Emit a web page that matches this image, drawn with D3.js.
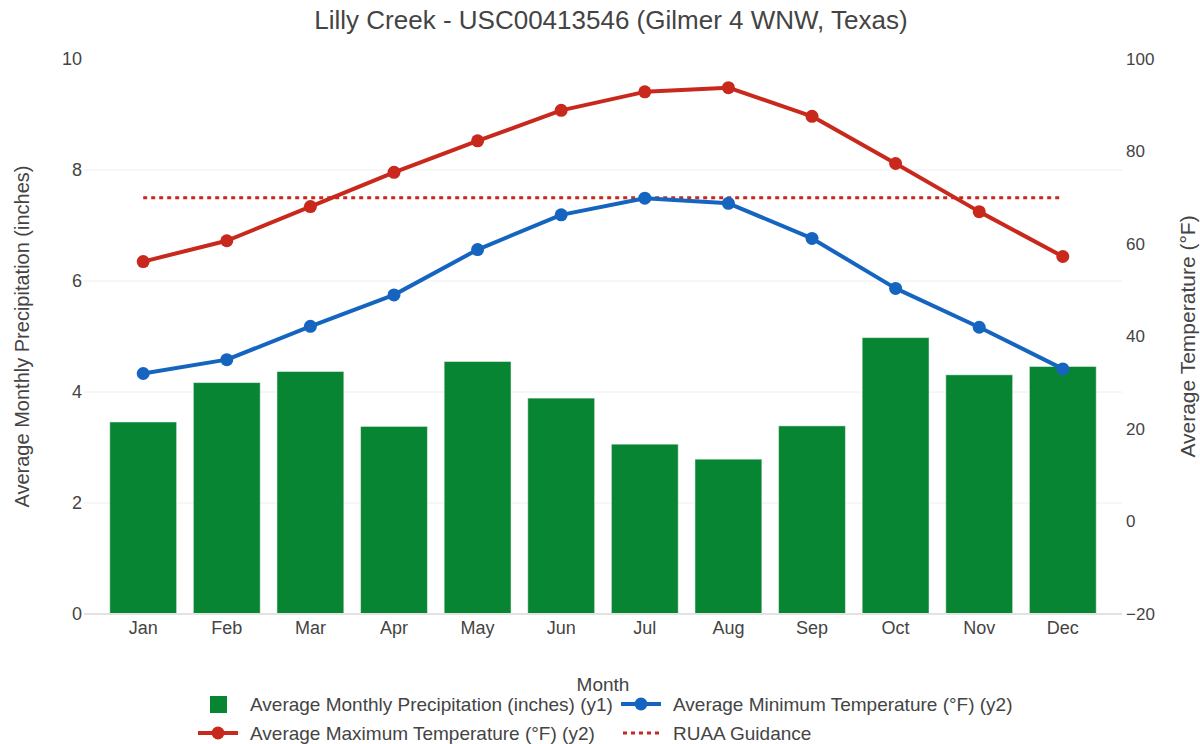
<!DOCTYPE html>
<html>
<head>
<meta charset="utf-8">
<script src="https://cdn.jsdelivr.net/npm/d3@7"></script>
<style>
  body { margin: 0; background: #fff; }
  text { font-family: "Liberation Sans", Arial, sans-serif; fill: #444; }
</style>
</head>
<body>
<div id="chart"></div>
<script>
// Chart data
var months = ["Jan", "Feb", "Mar", "Apr", "May", "Jun", "Jul", "Aug", "Sep", "Oct", "Nov", "Dec"];
var precip = [3.46, 4.17, 4.37, 3.38, 4.55, 3.89, 3.06, 2.79, 3.39, 4.98, 4.31, 4.46];
var maxTemp = [56.2, 60.7, 68.1, 75.5, 82.3, 88.9, 92.9, 93.8, 87.6, 77.4, 67.0, 57.3];
var minTemp = [32.0, 35.0, 42.2, 49.0, 58.8, 66.3, 69.9, 68.8, 61.2, 50.4, 42.0, 33.0];
var ruaaGuidance = 70;
var precipTicks = [0, 2, 4, 6, 8, 10];
var tempTicks = [-20, 0, 20, 40, 60, 80, 100];

var title = "Lilly Creek - USC00413546 (Gilmer 4 WNW, Texas)";
var legendNames = [
    "Average Monthly Precipitation (inches) (y1)",
    "Average Minimum Temperature (°F) (y2)",
    "Average Maximum Temperature (°F) (y2)",
    "RUAA Guidance"
];

// colours
var green = "#088532", red = "#c8291c", blue = "#1565c0";

var width = 1200, height = 744;
var plot = { left: 84, right: 1122, top: 59, bottom: 614 };

var svg = d3.select("#chart").append("svg")
    .attr("width", width)
    .attr("height", height);

var x = d3.scaleBand()
    .domain(months)
    .range([plot.left, plot.right])
    .paddingInner(0.2)
    .paddingOuter(0.308);
var cx = function(m) { return x(m) + x.bandwidth() / 2; };

var y1 = d3.scaleLinear().domain([0, 10]).range([plot.bottom, plot.top]);
var y2 = d3.scaleLinear().domain([-20, 100]).range([plot.bottom, plot.top]);

// title
svg.append("text")
    .attr("x", 611).attr("y", 20)
    .attr("text-anchor", "middle")
    .attr("dominant-baseline", "central")
    .style("font-size", "26px")
    .text(title);

// gridlines (left axis only)
svg.append("g").selectAll("line")
    .data(precipTicks.filter(function(t) { return t > 0 && t < 10; }))
    .enter().append("line")
    .attr("x1", plot.left).attr("x2", plot.right)
    .attr("y1", function(d) { return y1(d); })
    .attr("y2", function(d) { return y1(d); })
    .attr("stroke", "#eee").attr("stroke-width", 1);

// bars
svg.append("g").selectAll("rect")
    .data(precip)
    .enter().append("rect")
    .attr("x", function(d, i) { return x(months[i]); })
    .attr("width", x.bandwidth())
    .attr("y", function(d) { return y1(d); })
    .attr("height", function(d) { return y1(0) - y1(d); })
    .attr("fill", green)
    .attr("stroke", "rgba(255,255,255,0.5)")
    .attr("stroke-width", 1);

// zero line
svg.append("line")
    .attr("x1", plot.left).attr("x2", plot.right)
    .attr("y1", y1(0)).attr("y2", y1(0))
    .attr("stroke", "#e2e2e2").attr("stroke-width", 2);

// left axis
var yAxisL = d3.axisLeft(y1).tickValues(precipTicks).tickSize(0).tickPadding(0);
svg.append("g")
    .attr("transform", "translate(" + (plot.left - 2) + ",0)")
    .call(yAxisL)
    .call(function(g) { g.select(".domain").remove(); })
    .selectAll("text")
    .style("font-size", "18px").attr("fill", "#444");

// right axis
var yAxisR = d3.axisRight(y2).tickValues(tempTicks).tickSize(0).tickPadding(0)
    .tickFormat(function(d) { return d < 0 ? "\u2212" + Math.abs(d) : d; });
svg.append("g")
    .attr("transform", "translate(" + (plot.right + 4) + ",0)")
    .call(yAxisR)
    .call(function(g) { g.select(".domain").remove(); })
    .selectAll("text")
    .style("font-size", "17px").attr("fill", "#444");

// bottom axis
var xAxis = d3.axisBottom(x).tickSize(0).tickPadding(7);
svg.append("g")
    .attr("transform", "translate(0," + plot.bottom + ")")
    .call(xAxis)
    .call(function(g) { g.select(".domain").remove(); })
    .selectAll("text")
    .style("font-size", "18px").attr("fill", "#444");

// axis titles
svg.append("text")
    .attr("transform", "translate(22," + ((plot.top + plot.bottom) / 2) + ") rotate(-90)")
    .attr("text-anchor", "middle")
    .attr("dominant-baseline", "central")
    .style("font-size", "20px")
    .text("Average Monthly Precipitation (inches)");

svg.append("text")
    .attr("transform", "translate(1187," + ((plot.top + plot.bottom) / 2) + ") rotate(-90)")
    .attr("text-anchor", "middle")
    .attr("dominant-baseline", "central")
    .style("font-size", "21px")
    .text("Average Temperature (°F)");

svg.append("text")
    .attr("x", (plot.left + plot.right) / 2).attr("y", 684)
    .attr("text-anchor", "middle")
    .attr("dominant-baseline", "central")
    .style("font-size", "19px")
    .text("Month");

// RUAA guidance line
svg.append("line")
    .attr("x1", cx(months[0])).attr("x2", cx(months[months.length - 1]))
    .attr("y1", y2(ruaaGuidance)).attr("y2", y2(ruaaGuidance))
    .attr("stroke", red).attr("stroke-width", 3)
    .attr("stroke-dasharray", "4,4");

// temperature lines
function drawSeries(values, color) {
    var line = d3.line()
        .x(function(d, i) { return cx(months[i]); })
        .y(function(d) { return y2(d); });
    svg.append("path")
        .datum(values)
        .attr("d", line)
        .attr("fill", "none")
        .attr("stroke", color)
        .attr("stroke-width", 4)
        .attr("stroke-linejoin", "round");
    svg.append("g").selectAll("circle")
        .data(values)
        .enter().append("circle")
        .attr("cx", function(d, i) { return cx(months[i]); })
        .attr("cy", function(d) { return y2(d); })
        .attr("r", 6.5)
        .attr("fill", color);
}
drawSeries(maxTemp, red);
drawSeries(minTemp, blue);

// legend
var legend = svg.append("g");
var cols = [198, 621], rows = [704, 733];

function legendItem(col, row, name, kind, color) {
    var g = legend.append("g")
        .attr("transform", "translate(" + cols[col] + "," + rows[row] + ")");
    if (kind === "bar") {
        g.append("rect").attr("x", 12).attr("y", -8).attr("width", 17).attr("height", 17)
            .attr("fill", color);
    } else if (kind === "line") {
        g.append("line").attr("x1", 0).attr("x2", 40).attr("y1", 0).attr("y2", 0)
            .attr("stroke", color).attr("stroke-width", 4);
        g.append("circle").attr("cx", 20).attr("cy", 0).attr("r", 6.5).attr("fill", color);
    } else {
        g.append("line").attr("x1", 2).attr("x2", 40).attr("y1", 0).attr("y2", 0)
            .attr("stroke", color).attr("stroke-width", 3).attr("stroke-dasharray", "4,4");
    }
    g.append("text")
        .attr("x", 52).attr("y", 0)
        .attr("dominant-baseline", "central")
        .style("font-size", "19px")
        .text(name);
}
legendItem(0, 0, legendNames[0], "bar", green);
legendItem(1, 0, legendNames[1], "line", blue);
legendItem(0, 1, legendNames[2], "line", red);
legendItem(1, 1, legendNames[3], "dot", red);
</script>
</body>
</html>
